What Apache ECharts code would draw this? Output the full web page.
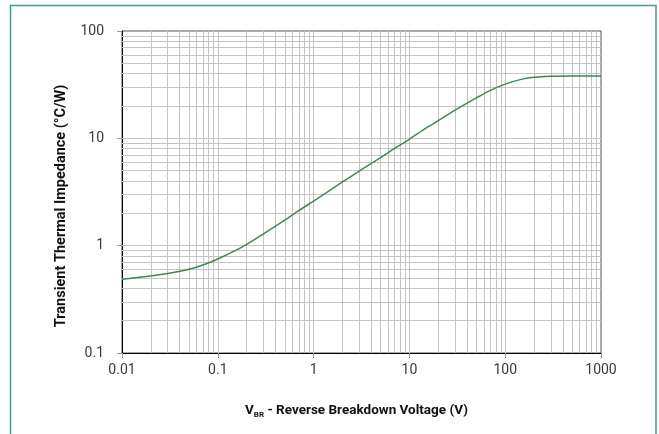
<!DOCTYPE html>
<html><head><meta charset="utf-8">
<script src="https://cdn.jsdelivr.net/npm/echarts@6/dist/echarts.min.js"></script>
<style>html,body{margin:0;padding:0;background:#fff}#c{width:659px;height:434px}</style>
</head><body><div id="c"></div>
<script>
// Data
const voltage   = [0.01, 0.02, 0.03, 0.05, 0.07, 0.1, 0.15, 0.2, 0.3, 0.5, 0.7, 1, 2, 3, 5, 7, 10, 15, 20, 30, 50, 70, 100, 150, 200, 300, 500, 1000];
const impedance = [0.487,0.521,0.550,0.602,0.660,0.752,0.893,1.03,1.29,1.73,2.12,2.6,3.92,4.96,6.6,8.05,9.8,12.5,14.6,18.3,23.8,28.0,32.0,35.6,37.1,37.8,38,38];
const xTickLabels = ['0.01','0.1','1','10','100','1000'];
const yTickLabels = ['0.1','1','10','100'];
const xDecades = [0.01,0.1,1,10,100];
const yDecades = [0.1,1,10];

const FONT = "Roboto,'Liberation Sans',sans-serif";
const gridColor = '#c4c4c4';

const gridLines = [];
xDecades.forEach(d => { for (let k = 1; k <= 9; k++) { if (d===0.01 && k===1) continue; gridLines.push({xAxis: +(d*k).toPrecision(6)}); } });
yDecades.forEach(d => { for (let k = 1; k <= 9; k++) { if (d===0.1 && k===1) continue; gridLines.push({yAxis: +(d*k).toPrecision(6)}); } });

const chart = echarts.init(document.getElementById('c'), null, {renderer:'canvas'});
chart.setOption({
  animation:false,
  backgroundColor:'#fff',
  graphic:[{type:'rect', shape:{x:10.5,y:5.5,width:645.5,height:440}, style:{fill:'none', stroke:'#3aa37a', lineWidth:1.5}, silent:true}],
  grid:{left:122, right:58, top:31, bottom:81, show:true, borderColor:'#555', borderWidth:1, backgroundColor:'transparent'},
  xAxis:{
    type:'log', logBase:10, min:0.01, max:1000,
    axisLine:{show:true, lineStyle:{color:'#000', width:1}},
    axisTick:{show:true, length:5, lineStyle:{color:'#999'}},
    splitLine:{show:false},
    axisLabel:{margin:10, fontFamily:FONT, fontSize:14, color:'#3a3a3a', formatter:(v,i)=>xTickLabels[i]},
    name:'{v|V}{s|BR}{n| - Reverse Breakdown Voltage (V)}',
    nameLocation:'middle', nameGap:50,
    nameTextStyle:{fontFamily:FONT, fontWeight:'bold', fontSize:13.5, color:'#111', padding:[0,10,0,0],
      rich:{v:{fontFamily:FONT, fontWeight:'bold', fontSize:13.5, color:'#111'},
            s:{fontFamily:FONT, fontWeight:'bold', fontSize:8, color:'#111', padding:[8,0,0,0]},
            n:{fontFamily:FONT, fontWeight:'bold', fontSize:13.5, color:'#111'}}}
  },
  yAxis:{
    type:'log', logBase:10, min:0.1, max:100,
    axisLine:{show:true, lineStyle:{color:'#000', width:1}},
    axisTick:{show:true, length:5, lineStyle:{color:'#999'}},
    splitLine:{show:false},
    axisLabel:{margin:18, fontFamily:FONT, fontSize:14, color:'#3a3a3a', formatter:(v,i)=>yTickLabels[i]},
    name:'Transient Thermal Impedance (°C/W)',
    nameLocation:'middle', nameGap:53,
    nameTextStyle:{fontFamily:FONT, fontWeight:'bold', fontSize:14.5, color:'#111', padding:[0,28,0,0]}
  },
  series:[
    {type:'line', data:[], z:1, silent:true,
     markLine:{silent:true, symbol:['none','none'], label:{show:false}, animation:false,
       lineStyle:{color:gridColor, width:1, type:'solid'}, emphasis:{disabled:true}, data:gridLines}},
    {type:'line', z:5, smooth:0.3, showSymbol:false, silent:true,
     lineStyle:{color:'#3b8a52', width:1.5},
     data: voltage.map((x,i)=>[x, impedance[i]])}
  ]
});
</script></body></html>
